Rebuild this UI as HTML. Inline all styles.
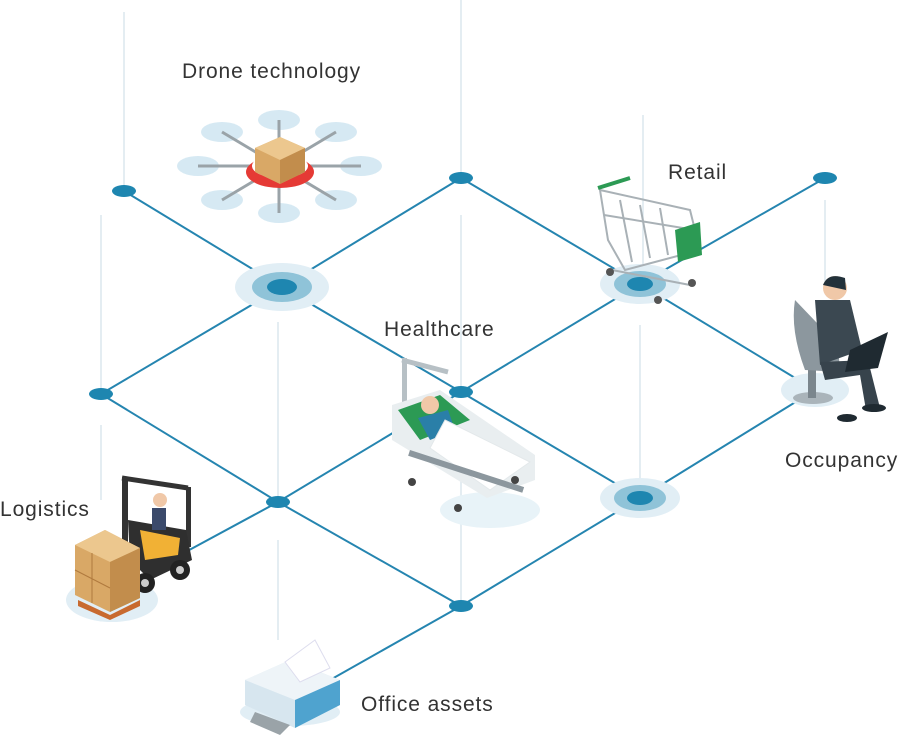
<!DOCTYPE html>
<html><head><meta charset="utf-8"><style>
html,body{margin:0;padding:0;background:#fff;}
svg{display:block}
text{font-family:"Liberation Sans",sans-serif;font-size:21px;fill:#333;letter-spacing:0.9px}
</style></head><body>
<svg width="900" height="743" viewBox="0 0 900 743" xmlns="http://www.w3.org/2000/svg">
<g stroke="#dbe7ee" stroke-width="1.5">
<line x1="124" y1="12" x2="124" y2="191"/>
<line x1="461" y1="0" x2="461" y2="178"/>
<line x1="101" y1="215" x2="101" y2="394"/>
<line x1="461" y1="215" x2="461" y2="392"/>
<line x1="278" y1="322" x2="278" y2="502"/>
<line x1="640" y1="325" x2="640" y2="498"/>
<line x1="825" y1="200" x2="825" y2="290"/>
<line x1="101" y1="425" x2="101" y2="500"/>
<line x1="278" y1="540" x2="278" y2="640"/>
<line x1="461" y1="430" x2="461" y2="606"/>
<line x1="643" y1="115" x2="643" y2="284"/>
</g>
<g stroke="#2585b0" stroke-width="2" fill="none">
<polyline points="124,191 282,287 461,392 640,498"/>
<polyline points="461,178 640,284 815,390"/>
<polyline points="101,394 278,502 461,606"/>
<polyline points="101,394 282,287 461,178"/>
<polyline points="180,555 278,502 461,392 640,284 825,178"/>
<polyline points="330,680 461,606 640,498 815,390"/>
</g>
<g>
<ellipse cx="282" cy="287" rx="47" ry="24" fill="#e1eef5"/><ellipse cx="282" cy="287" rx="30" ry="15" fill="#8fc3d8"/>
<ellipse cx="640" cy="284" rx="40" ry="20" fill="#e1eef5"/><ellipse cx="640" cy="284" rx="26" ry="13" fill="#8fc3d8"/>
<ellipse cx="640" cy="498" rx="40" ry="20" fill="#e1eef5"/><ellipse cx="640" cy="498" rx="26" ry="13" fill="#8fc3d8"/>
<ellipse cx="815" cy="390" rx="34" ry="17" fill="#e1eef5"/>
<ellipse cx="112" cy="600" rx="46" ry="22" fill="#e1eef5"/>
<ellipse cx="490" cy="510" rx="50" ry="18" fill="#e8f3f8"/>
</g>
<g fill="#1e86b0">
<ellipse cx="124" cy="191" rx="12" ry="6"/><ellipse cx="461" cy="178" rx="12" ry="6"/><ellipse cx="825" cy="178" rx="12" ry="6"/>
<ellipse cx="282" cy="287" rx="15" ry="8"/><ellipse cx="640" cy="284" rx="13" ry="7"/><ellipse cx="101" cy="394" rx="12" ry="6"/>
<ellipse cx="461" cy="392" rx="12" ry="6"/><ellipse cx="278" cy="502" rx="12" ry="6"/><ellipse cx="640" cy="498" rx="13" ry="7"/>
<ellipse cx="461" cy="606" rx="12" ry="6"/>
</g>
<!-- drone -->
<g>
<g fill="#d6e9f3">
<ellipse cx="222" cy="132" rx="21" ry="10"/><ellipse cx="279" cy="120" rx="21" ry="10"/><ellipse cx="336" cy="132" rx="21" ry="10"/>
<ellipse cx="361" cy="166" rx="21" ry="10"/><ellipse cx="336" cy="200" rx="21" ry="10"/><ellipse cx="279" cy="213" rx="21" ry="10"/>
<ellipse cx="222" cy="200" rx="21" ry="10"/><ellipse cx="198" cy="166" rx="21" ry="10"/>
</g>
<g stroke="#9aa3a8" stroke-width="3"><line x1="222" y1="132" x2="336" y2="200"/><line x1="336" y1="132" x2="222" y2="200"/><line x1="279" y1="120" x2="279" y2="213"/><line x1="198" y1="166" x2="361" y2="166"/></g>
<ellipse cx="280" cy="172" rx="34" ry="16" fill="#e53a35"/>
<ellipse cx="280" cy="166" rx="28" ry="12" fill="#fff"/>
<polygon points="255,148 280,137 305,148 305,172 280,184 255,172" fill="#d9a866"/>
<polygon points="255,148 280,160 305,148 280,137" fill="#ecc78e"/>
<polygon points="280,160 305,148 305,172 280,184" fill="#c28d4c"/>
</g>
<!-- cart -->
<g stroke="#a9b1b6" stroke-width="2" fill="none">
<polygon points="600,190 690,210 700,250 625,270 608,240"/>
<line x1="620" y1="200" x2="632" y2="262"/><line x1="640" y1="205" x2="650" y2="258"/><line x1="660" y1="208" x2="668" y2="255"/>
<line x1="604" y1="215" x2="695" y2="230"/>
<line x1="612" y1="270" x2="690" y2="285"/>
</g>
<polygon points="675,230 700,222 702,255 678,262" fill="#2c9a54"/>
<line x1="598" y1="188" x2="630" y2="178" stroke="#2c9a54" stroke-width="4"/>
<g fill="#555"><circle cx="610" cy="272" r="4"/><circle cx="658" cy="300" r="4"/><circle cx="692" cy="283" r="4"/></g>
<!-- occupancy person -->
<g>
<ellipse cx="813" cy="398" rx="20" ry="6" fill="#aab4ba"/>
<rect x="808" y="360" width="8" height="38" fill="#7b868d"/>
<path d="M795 300 Q790 330 805 370 L840 372 L838 345 Z" fill="#8c979e"/>
<circle cx="835" cy="288" r="12" fill="#f0c8a8"/><path d="M823 285 Q828 272 845 278 L846 290 Z" fill="#22313a"/>
<path d="M815 300 L850 300 L862 350 L820 365 Z" fill="#3b4851"/>
<path d="M820 362 L868 360 L880 408 L866 410 L860 375 L825 380 Z" fill="#37434c"/>
<polygon points="850,350 888,332 878,368 845,372" fill="#1f2a31"/>
<ellipse cx="874" cy="408" rx="12" ry="4" fill="#1f2a31"/><ellipse cx="847" cy="418" rx="10" ry="4" fill="#1f2a31"/>
</g>
<!-- bed -->
<g>
<rect x="402" y="358" width="5" height="80" fill="#b7c0c5"/>
<line x1="402" y1="360" x2="448" y2="372" stroke="#b7c0c5" stroke-width="5"/>
<polygon points="392,405 440,390 535,455 535,480 487,498 392,440" fill="#e9eef0"/>
<polygon points="398,410 440,395 470,420 420,440" fill="#2c9a54"/>
<circle cx="430" cy="405" r="9" fill="#f0c8a8"/>
<path d="M418 418 L448 410 L455 430 L430 440 Z" fill="#2a7fa8"/>
<path d="M445 420 L530 462 L490 490 L430 448 Z" fill="#fff" stroke="#e3e8ea"/>
<rect x="410" y="450" width="120" height="6" fill="#8c979e" transform="rotate(18 410 450)"/>
<g fill="#444"><circle cx="412" cy="482" r="4"/><circle cx="458" cy="508" r="4"/><circle cx="515" cy="480" r="4"/></g>
</g>
<!-- forklift -->
<g>
<rect x="122" y="477" width="6" height="90" fill="#333"/><rect x="186" y="487" width="5" height="60" fill="#333"/>
<line x1="122" y1="478" x2="188" y2="488" stroke="#333" stroke-width="5"/>
<polygon points="128,520 186,530 192,560 150,580 130,560" fill="#2f2f2f"/>
<polygon points="140,530 180,538 178,555 145,560" fill="#f1b135"/>
<circle cx="160" cy="500" r="7" fill="#f0c8a8"/><rect x="152" y="508" width="14" height="22" fill="#3b4a6b"/>
<circle cx="180" cy="570" r="10" fill="#222"/><circle cx="180" cy="570" r="4" fill="#ccc"/>
<circle cx="145" cy="583" r="10" fill="#222"/><circle cx="145" cy="583" r="4" fill="#ccc"/>
<polygon points="75,545 105,530 140,548 140,598 110,612 75,595" fill="#d9a866"/>
<polygon points="75,545 105,530 140,548 110,562" fill="#ecc78e"/>
<polygon points="110,562 140,548 140,598 110,612" fill="#c28d4c"/>
<line x1="75" y1="570" x2="110" y2="588" stroke="#b07a3e"/><line x1="92" y1="553" x2="92" y2="603" stroke="#b07a3e"/>
<polygon points="78,600 110,615 140,600 140,606 110,620 78,606" fill="#c86a2f"/>
</g>
<!-- printer -->
<g>
<ellipse cx="290" cy="712" rx="50" ry="14" fill="#e1eef5"/>
<polygon points="245,680 290,660 340,680 340,705 295,728 245,705" fill="#d7e6ef"/>
<polygon points="245,680 290,660 340,680 295,700" fill="#eef4f8"/>
<polygon points="295,700 340,680 340,705 295,728" fill="#4fa3cf"/>
<polygon points="285,662 315,640 330,668 300,682" fill="#fff" stroke="#dde"/>
<polygon points="255,712 290,725 280,735 250,722" fill="#9aa3a8"/>
</g>
<text x="182" y="78">Drone technology</text>
<text x="668" y="179">Retail</text>
<text x="384" y="336">Healthcare</text>
<text x="785" y="467">Occupancy</text>
<text x="0" y="516">Logistics</text>
<text x="361" y="711">Office assets</text>
</svg>
</body></html>
